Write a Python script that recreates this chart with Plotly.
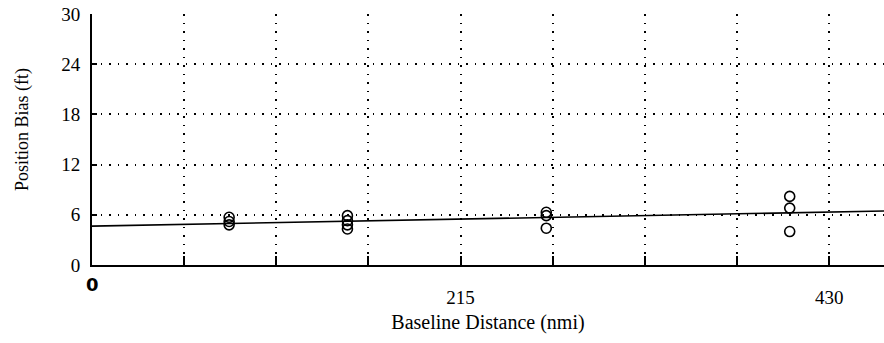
import plotly.graph_objects as go

# Data
baseline_nmi = [80, 80, 80, 149, 149, 149, 149, 265, 265, 265, 407, 407, 407]
position_bias_ft = [5.7, 5.2, 4.8, 5.9, 5.3, 4.8, 4.3, 6.3, 5.9, 4.4, 8.2, 6.8, 4.0]
trend_x = [0, 462]
trend_y = [4.65, 6.45]
x_tick_vals = [0, 53.75, 107.5, 161.25, 215, 268.75, 322.5, 376.25, 430]
x_tick_text = ["", "", "", "", "215", "", "", "", "430"]
y_tick_vals = [0, 6, 12, 18, 24, 30]
y_tick_text = ["0", "6", "12", "18", "24", "30"]

font_family = "Liberation Serif"
grid_dash = "1.5px,7px"

fig = go.Figure()
fig.add_trace(go.Scatter(x=trend_x, y=trend_y, mode="lines",
                         line=dict(color="black", width=1.6), showlegend=False))
fig.add_trace(go.Scatter(x=baseline_nmi, y=position_bias_ft, mode="markers",
                         marker=dict(symbol="circle-open", size=10, color="black",
                                     line=dict(width=1.6, color="black")),
                         showlegend=False))

fig.update_layout(
    width=884, height=343,
    margin=dict(l=92, r=0, t=14, b=78),
    paper_bgcolor="white", plot_bgcolor="white",
    font=dict(family=font_family, color="black"),
    xaxis=dict(range=[0, 462], tickvals=x_tick_vals, ticktext=x_tick_text,
               ticks="inside", ticklen=9, tickwidth=2, tickcolor="black",
               showline=True, linecolor="black", linewidth=2,
               showgrid=True, gridcolor="black", griddash=grid_dash, gridwidth=1.5,
               zeroline=False, tickfont=dict(size=19, family=font_family),
               ticklabelstandoff=14,
               title=dict(text="Baseline Distance (nmi)", font=dict(size=20, family=font_family),
                          standoff=8)),
    yaxis=dict(range=[0, 30], tickvals=y_tick_vals, ticktext=y_tick_text,
               ticks="inside", ticklen=5, tickwidth=2, tickcolor="black",
               showline=True, linecolor="black", linewidth=2,
               showgrid=True, gridcolor="black", griddash=grid_dash, gridwidth=1.5,
               zeroline=False, tickfont=dict(size=19, family=font_family),
               ticklabelstandoff=6),
)

fig.add_annotation(x=0, y=0, xref="x", yref="paper", text="<b>0</b>", showarrow=False,
                   yanchor="top", yshift=-7,
                   font=dict(size=18, family="DejaVu Sans", color="black"))
fig.add_annotation(x=22, y=130, xref="paper", yref="paper", text="Position Bias (ft)",
                   showarrow=False, textangle=-90, xanchor="center", yanchor="middle",
                   font=dict(size=18, family=font_family, color="black"))
fig.layout.annotations[1].update(xref="paper", yref="paper",
                                 x=(22 - 92) / 792, y=(265 - 130) / 251)

fig.write_html("out.html")
